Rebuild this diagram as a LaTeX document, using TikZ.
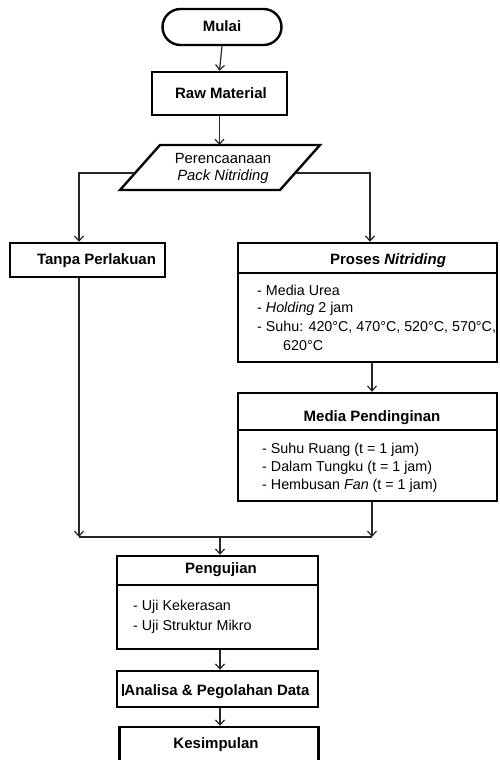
\documentclass[tikz,border=0pt]{standalone}
\usepackage{fontspec}
\setmainfont{Liberation Sans}
\usetikzlibrary{arrows.meta,calc}
\begin{document}
\begin{tikzpicture}[x=1pt,y=-1pt,
  box/.style={draw=black, line width=2.4pt, fill=white, inner sep=0pt},
  lbl/.style={inner sep=0pt, anchor=base, font=\fontsize{14.8}{18}\selectfont},
  lst/.style={inner sep=0pt, anchor=base west, font=\fontsize{14.3}{18}\selectfont},
  hdr/.style={inner sep=0pt, anchor=base, font=\fontsize{15}{18}\selectfont\bfseries},
  conn/.style={draw=black!85, line width=1.2pt},
  arr/.style={conn, -{Straight Barb[length=5pt,width=9pt,line width=1.2pt]}},
  divider/.style={draw=black, line width=1.6pt}
]
\useasboundingbox (0,0) rectangle (499,760);
\fill[white] (0,0) rectangle (499,760);

% helper coordinates
\coordinate (lx) at (79,0);
\coordinate (rx) at (372,0);
\coordinate (ux) at (370,0);
\coordinate (my) at (0,537);
\coordinate (d1) at (0,273);
\coordinate (d2) at (0,430);
\coordinate (d3) at (0,585);

% Mulai
\node[box, rounded corners=18pt, minimum width=119pt, minimum height=36pt] (mulai) at (222,27) {};
\node[hdr] (mulait) at (222,32) {Mulai};

% Raw Material
\node[box, minimum width=135pt, minimum height=43pt] (raw) at (219.5,93.5) {};
\node[hdr] (rawt) at (221,98.5) {Raw Material};

% Parallelogram
\coordinate (pTL) at (160,145);
\coordinate (pTR) at (320,145);
\coordinate (pBR) at (280,190);
\coordinate (pBL) at (120,190);
\coordinate (ptop) at (219.5,145);
\coordinate (pL) at (135,173);
\coordinate (pR) at (295,173);
\draw[line width=2.4pt, fill=white, line join=miter] (pTL) -- (pTR) -- (pBR) -- (pBL) -- cycle;
\node[lbl] (plan1) at (223,163) {Perencaanaan};
\node[lbl] (plan2) at (223,180) {\textit{Pack Nitriding}};

% Tanpa Perlakuan
\node[box, minimum width=155pt, minimum height=34pt] (tanpa) at (87.5,260) {};
\node[hdr] (tanpat) at (96.5,264.5) {Tanpa Perlakuan};

% Proses Nitriding
\node[box, minimum width=259pt, minimum height=119pt] (proses) at (367.5,302.5) {};
\draw[divider] (proses.west |- d1) -- (proses.east |- d1);
\node[hdr] (prosest) at (388,264) {Proses \textit{Nitriding}};
\node[lst] (p1) at (257,295) {- Media Urea};
\node[lst] (p2) at (257,312) {- \textit{Holding} 2 jam};
\node[lst] (p3) at (257,331) {- Suhu: 420°C, 470°C, 520°C, 570°C,};
\node[lst] (p4) at (283,350) {620°C};

% Media Pendinginan
\node[box, minimum width=259pt, minimum height=108pt] (media) at (367.5,447) {};
\draw[divider] (media.west |- d2) -- (media.east |- d2);
\node[hdr] (mediat) at (372,421) {Media Pendinginan};
\node[lst] (m1) at (262,453) {- Suhu Ruang (t = 1 jam)};
\node[lst] (m2) at (262,471) {- Dalam Tungku (t = 1 jam)};
\node[lst] (m3) at (262,489) {- Hembusan \textit{Fan} (t = 1 jam)};

% Pengujian
\node[box, minimum width=201pt, minimum height=93pt] (uji) at (217.5,602.5) {};
\draw[divider] (uji.west |- d3) -- (uji.east |- d3);
\node[hdr] (ujit) at (221,573) {Pengujian};
\node[lst] (u1) at (133,610) {- Uji Kekerasan};
\node[lst] (u2) at (133,630) {- Uji Struktur Mikro};

% Analisa
\node[box, minimum width=201pt, minimum height=36pt] (analisa) at (217.5,689) {};
\node[hdr] (analisat) at (216,695) {\rule[-1pt]{2pt}{12pt}Analisa \& Pegolahan Data};

% Kesimpulan
\node[box, minimum width=199pt, minimum height=48pt] (kes) at (219,751) {};
\node[hdr] (kest) at (216,748) {Kesimpulan};

% connectors
\draw[arr] (mulai.south) -- (raw.north);
\draw[arr] (raw.south) -- (ptop);
\draw[arr] (pL) -| (lx |- tanpa.north);
\draw[arr] (pR) -| (ux |- proses.north);
\draw[arr] (proses.south -| rx) -- (media.north -| rx);
\draw[arr] (tanpa.south -| lx) -- (lx |- my);
\draw[arr] (media.south -| rx) -- (rx |- my);
\draw[conn] (lx |- my) -- (rx |- my);
\coordinate (mc) at (220,537);
\draw[arr] (mc) -- (mc |- uji.north);
\draw[arr] (uji.south -| mc) -- (mc |- analisa.north);
\draw[arr] (analisa.south -| mc) -- (mc |- kes.north);
\end{tikzpicture}
\end{document}
